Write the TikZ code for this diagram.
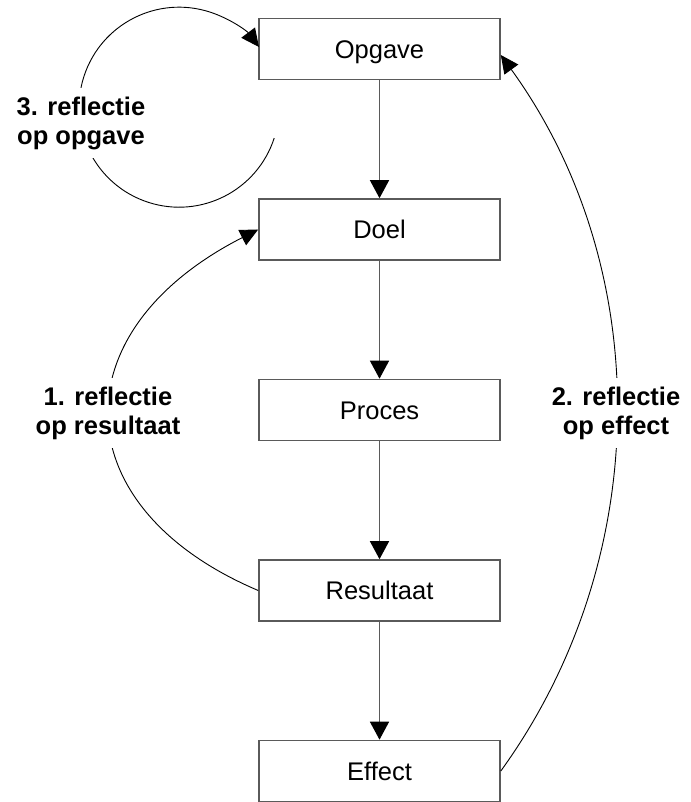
\documentclass[tikz,border=0pt]{standalone}
\usepackage{fontspec}
\setmainfont{Liberation Sans}
\usetikzlibrary{arrows.meta,calc}
\definecolor{boxgray}{RGB}{90,90,90}
\begin{document}
\begin{tikzpicture}[x=1pt,y=1pt,
  stagebox/.style={draw=boxgray, line width=1.6pt, minimum width=241pt, minimum height=61pt,
    inner sep=0pt, font=\fontsize{25.5}{29}\selectfont, text height=18.3pt, text depth=0pt},
  flow/.style={draw=boxgray, line width=1.5pt, -{Triangle[length=18pt,width=19pt,black]}},
  loopline/.style={draw=black, line width=0.9pt, -{Triangle[length=18pt,width=17pt,black]}},
  reflabel/.style={fill=white, align=center, inner xsep=3pt, inner ysep=9pt,
    font=\fontsize{25.5}{29}\selectfont\bfseries}]
\useasboundingbox (0,0) rectangle (690,802);
\node[stagebox] (opgave) at (379.5,753) {Opgave};
\node[stagebox] (doel) at (379.5,572.5) {Doel};
\node[stagebox] (proces) at (379.5,392) {Proces};
\node[stagebox] (resultaat) at (379.5,211.5) {Resultaat};
\node[stagebox] (effect) at (379.5,31) {Effect};
\draw[flow] (opgave) -- (doel);
\draw[flow] (doel) -- (proces);
\draw[flow] (proces) -- (resultaat);
\draw[flow] (resultaat) -- (effect);
% 1. reflectie op resultaat
\draw[loopline] (resultaat.west) .. controls +(157:212) and +(207:225) .. (doel.west);
% 2. reflectie op effect
\draw[loopline] (effect.east) to[out=54.13, in=-54.13, looseness=0.941] ([yshift=-6pt]opgave.east);
% 3. reflectie op opgave
\coordinate (c3start) at (274.2,663.9);
\draw[loopline] (c3start) arc[start angle=-18, end angle=-323, radius=100];
\node[reflabel] (lab3) at (81,679) {3. reflectie\\op opgave};
\node[reflabel] (lab1) at (108,389) {1. reflectie\\op resultaat};
\node[reflabel] (lab2) at (616,389) {2. reflectie\\op effect};
\end{tikzpicture}
\end{document}
